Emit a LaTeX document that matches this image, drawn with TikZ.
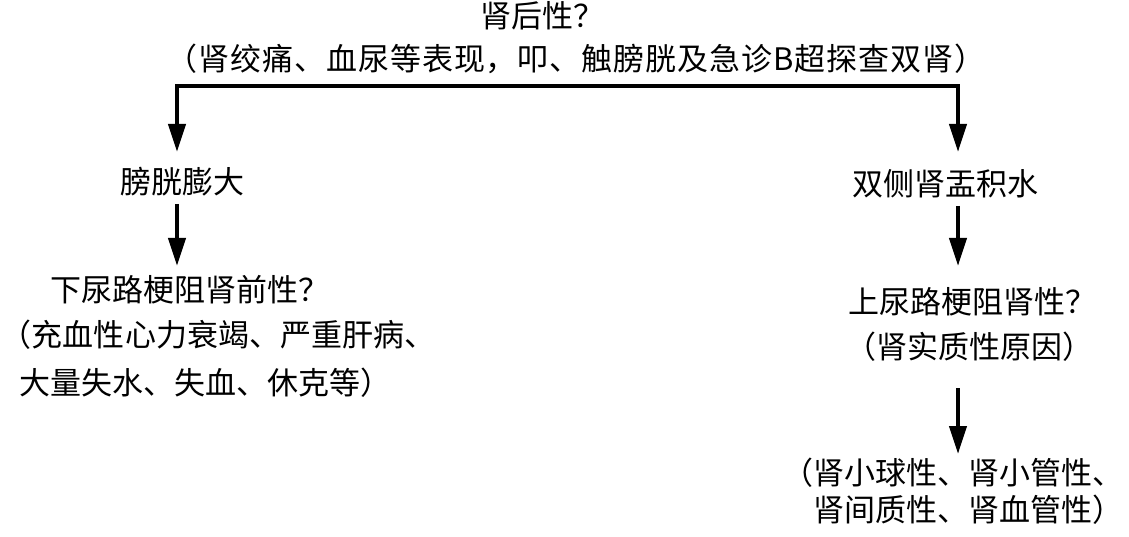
\documentclass[tikz,border=0pt]{standalone}
\usepackage{fontspec}
\setmainfont{Noto Sans CJK SC}
\usetikzlibrary{arrows.meta}
\begin{document}
\begin{tikzpicture}[x=1pt,y=-1pt,
  txt/.style={inner sep=0pt,anchor=base,font=\fontsize{31}{36}\selectfont},
  tip/.tip={Triangle[length=28pt,width=17pt]},
  conn/.style={line width=4pt,line join=miter},
  arr/.style={conn,-tip}]
\useasboundingbox (0,0) rectangle (1129,537);
% texts
\node[txt] (title) at (542,28) {肾后性？};
\node[txt] (sub) at (576,71) {\addfontfeature{LetterSpace=3}（肾绞痛、血尿等表现，叩、触膀胱及急诊B超探查双肾）};
\node[txt] (bl) at (182,194) {膀胱膨大};
\node[txt] (br) at (945,196) {双侧肾盂积水};
\node[txt] (l1) at (190,301) {下尿路梗阻肾前性？};
\node[txt] (l2) at (218,346) {（充血性心力衰竭、严重肝病、};
\node[txt] (l3) at (205,394) {大量失水、失血、休克等）};
\node[txt] (r1) at (972,313) {上尿路梗阻肾性？};
\node[txt] (r2) at (969,358) {（肾实质性原因）};
\node[txt] (r3) at (953,484) {（肾小球性、肾小管性、};
\node[txt] (r4) at (968,521) {肾间质性、肾血管性）};
% connector coordinates
\coordinate (hm) at (568,86);
\coordinate (tl) at (177,152);
\coordinate (tr) at (958,152);
\coordinate (a1s) at (177,204);
\coordinate (a1e) at (177,266);
\coordinate (a2s) at (958,206);
\coordinate (a2e) at (958,266);
\coordinate (a3s) at (958,388);
\coordinate (a3e) at (958,454);
% connectors
\draw[conn,tip-tip] (tl) |- (hm) -| (tr);
\draw[arr] (a1s) -- (a1e);
\draw[arr] (a2s) -- (a2e);
\draw[arr] (a3s) -- (a3e);
\end{tikzpicture}
\end{document}
